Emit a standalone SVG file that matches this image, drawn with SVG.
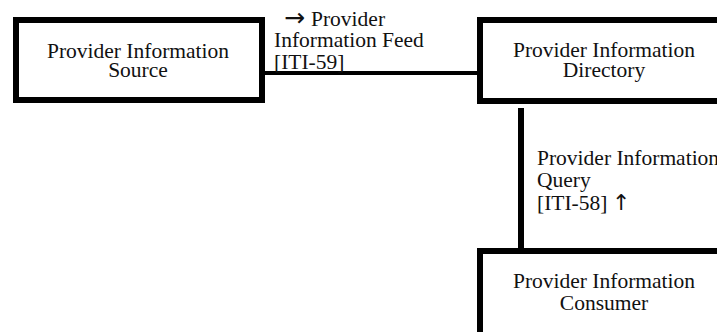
<svg xmlns="http://www.w3.org/2000/svg" width="717" height="332" viewBox="0 0 717 332">
  <style>
    .box { fill: #ffffff; stroke: #000000; stroke-width: 6; }
    .conn { stroke: #000000; fill: none; }
    text { font-family: "Liberation Serif", "Times New Roman", "DejaVu Serif", serif; font-size: 21.5px; fill: #111111; }
    .mid { text-anchor: middle; }
    .arrow { font-family: "DejaVu Sans", sans-serif; fill: #111111; }
  </style>
  <rect width="717" height="332" fill="#ffffff"/>

  <!-- connectors -->
  <g id="connectors">
    <line class="conn" x1="265" y1="73" x2="478" y2="73" stroke-width="4"/>
    <line class="conn" x1="521" y1="108" x2="521" y2="249" stroke-width="6"/>
  </g>

  <!-- transaction labels -->
  <g id="label-iti59">
    <text x="284" y="26"><tspan class="arrow" font-size="25px">→</tspan><tspan x="311">Provider</tspan></text>
    <text x="274" y="47">Information Feed</text>
    <text x="274" y="69">[ITI-59]</text>
  </g>
  <g id="label-iti58">
    <text x="537" y="165">Provider Information</text>
    <text x="537" y="187">Query</text>
    <text x="537" y="210">[ITI-58]<tspan class="arrow" x="612" font-size="22px">↑</tspan></text>
  </g>

  <!-- actors -->
  <g id="source">
    <rect class="box" x="16" y="20" width="246" height="80"/>
    <text class="mid" x="138" y="58">Provider Information</text>
    <text class="mid" x="138" y="77">Source</text>
  </g>
  <g id="directory">
    <rect class="box" x="480" y="20" width="280" height="81"/>
    <text class="mid" x="604" y="57">Provider Information</text>
    <text class="mid" x="604" y="77">Directory</text>
  </g>
  <g id="consumer">
    <rect class="box" x="480" y="251" width="280" height="120"/>
    <text class="mid" x="604" y="288">Provider Information</text>
    <text class="mid" x="604" y="310">Consumer</text>
  </g>
</svg>
